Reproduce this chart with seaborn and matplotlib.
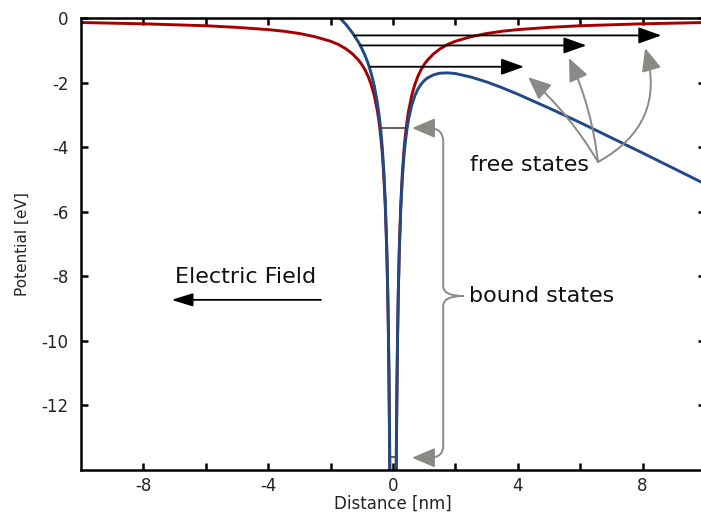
import matplotlib
matplotlib.use("Agg")
import matplotlib.pyplot as plt
import pandas as pd
import seaborn as sns
from matplotlib.patches import FancyArrowPatch
from matplotlib.path import Path

# ---------------- data ----------------
# distance magnitudes [nm]
r_vals = [0.1, 0.11, 0.13, 0.15, 0.17, 0.2, 0.25, 0.3, 0.35, 0.4, 0.45, 0.5,
          0.6, 0.7, 0.8, 0.9, 1.0, 1.1, 1.3, 1.5, 1.75, 2.0, 2.5, 3.0, 3.5,
          4.0, 5.0, 6.0, 7.0, 8.0, 9.0, 10.0]
# Coulomb potential (red), same on both sides
red_left_x = [-10.0, -9.0, -8.0, -7.0, -6.0, -5.0, -4.0, -3.5, -3.0, -2.5, -2.0,
              -1.75, -1.5, -1.3, -1.1, -1.0, -0.9, -0.8, -0.7, -0.6, -0.5, -0.45,
              -0.4, -0.35, -0.3, -0.25, -0.2, -0.17, -0.15, -0.13, -0.11, -0.1]
red_left_y = [-0.14, -0.16, -0.18, -0.21, -0.24, -0.29, -0.36, -0.41, -0.48, -0.58,
              -0.72, -0.82, -0.96, -1.11, -1.31, -1.44, -1.6, -1.8, -2.06, -2.4,
              -2.88, -3.2, -3.6, -4.11, -4.8, -5.76, -7.2, -8.47, -9.6, -11.08,
              -13.09, -14.4]
red_right_x = r_vals
red_right_y = [-14.4, -13.09, -11.08, -9.6, -8.47, -7.2, -5.76, -4.8, -4.11, -3.6,
               -3.2, -2.88, -2.4, -2.06, -1.8, -1.6, -1.44, -1.31, -1.11, -0.96,
               -0.82, -0.72, -0.58, -0.48, -0.41, -0.36, -0.29, -0.24, -0.21,
               -0.18, -0.16, -0.14]
# Coulomb potential tilted by the electric field (blue)
blue_left_x = [-2.0, -1.75, -1.5, -1.3, -1.1, -1.0, -0.9, -0.8, -0.7, -0.6, -0.5,
               -0.45, -0.4, -0.35, -0.3, -0.25, -0.2, -0.17, -0.15, -0.13, -0.11, -0.1]
blue_left_y = [0.28, 0.055, -0.21, -0.46, -0.76, -0.94, -1.15, -1.4, -1.71, -2.1,
               -2.63, -2.98, -3.4, -3.94, -4.65, -5.64, -7.1, -8.39, -9.53, -11.01,
               -13.04, -14.35]
blue_right_x = r_vals
blue_right_y = [-14.45, -13.15, -11.14, -9.68, -8.56, -7.3, -5.89, -4.95, -4.29, -3.8,
                -3.43, -3.13, -2.7, -2.41, -2.2, -2.05, -1.94, -1.86, -1.76, -1.71,
                -1.70, -1.72, -1.83, -1.98, -2.16, -2.36, -2.79, -3.24, -3.71, -4.18,
                -4.66, -5.14]

# energy levels [eV]
bound_levels = [-13.6, -3.4]
bound_left = [-0.1, -0.42]
bound_right = [0.1, 0.45]
free_levels = [-1.51, -0.85, -0.54]
free_start = [-0.72, -1.05, -1.24]
free_end = [4.2, 6.2, 8.6]

x_ticks = [-8, -4, 0, 4, 8]
x_minor = [-6, -2, 2, 6]
y_ticks = [-12, -10, -8, -6, -4, -2, 0]

RED = "#a40000"
BLUE = "#204a87"
GREY = "#888a85"

# ---------------- figure ----------------
sns.set_theme(style="white")
plt.rcParams["font.family"] = ["DejaVu Sans"]
plt.rcParams["axes.unicode_minus"] = False

fig = plt.figure(figsize=(7.01, 5.13), dpi=100)
ax = fig.add_axes([81 / 701, 43 / 513, 624 / 701, 452 / 513])

red_df = pd.DataFrame({
    "x": red_left_x + red_right_x,
    "y": red_left_y + red_right_y,
    "branch": ["L"] * len(red_left_x) + ["R"] * len(red_right_x),
})
blue_df = pd.DataFrame({
    "x": blue_left_x + blue_right_x,
    "y": blue_left_y + blue_right_y,
    "branch": ["L"] * len(blue_left_x) + ["R"] * len(blue_right_x),
})

sns.lineplot(data=red_df, x="x", y="y", units="branch", estimator=None, sort=False,
             color=RED, lw=2.1, ax=ax)
sns.lineplot(data=blue_df, x="x", y="y", units="branch", estimator=None, sort=False,
             color=BLUE, lw=2.1, ax=ax)

# bound-state levels inside the well
for lv, xl, xr in zip(bound_levels, bound_left, bound_right):
    ax.plot([xl, xr], [lv, lv], color="#444444", lw=1.2, zorder=1)

# free-state arrows
for lv, xs, xe in zip(free_levels, free_start, free_end):
    ax.annotate("", xy=(xe, lv), xytext=(xs, lv),
                arrowprops=dict(arrowstyle="-|>,head_length=0.7,head_width=0.25",
                                mutation_scale=20, color="black", lw=1.3,
                                shrinkA=0, shrinkB=0))

# electric field arrow
ax.annotate("", xy=(-7.1, -8.73), xytext=(-2.31, -8.73),
            arrowprops=dict(arrowstyle="-|>,head_length=0.65,head_width=0.2",
                            mutation_scale=20, color="black", lw=1.3,
                            shrinkA=0, shrinkB=0))
ax.text(-4.73, -8.02, "Electric Field", fontsize=16, ha="center", va="center",
        color="#111111")

# free states annotation
ax.text(4.37, -4.55, "free states", fontsize=16, ha="center", va="center",
        color="#111111")
start = (6.57, -4.46)
for tip, rad in zip([(4.33, -1.83), (5.64, -1.24), (8.08, -0.93)], [0.08, 0.08, 0.4]):
    ax.annotate("", xy=tip, xytext=start,
                arrowprops=dict(arrowstyle="-|>,head_length=0.7,head_width=0.3",
                                mutation_scale=20, color=GREY, lw=1.4,
                                shrinkA=0, shrinkB=0,
                                connectionstyle=f"arc3,rad={rad}"))

# bound states annotation (brace-like arrows)
ax.text(4.76, -8.61, "bound states", fontsize=16, ha="center", va="center",
        color="#111111")
J = (2.25, -8.61)
top = Path([J, (1.61, -8.61), (1.61, -8.30), (1.61, -3.84), (1.61, -3.41),
            (1.16, -3.41), (0.61, -3.41)],
           [Path.MOVETO, Path.CURVE3, Path.CURVE3, Path.LINETO, Path.CURVE3,
            Path.CURVE3, Path.LINETO])
bot = Path([J, (1.61, -8.61), (1.61, -8.92), (1.61, -13.25), (1.61, -13.62),
            (1.16, -13.62), (0.61, -13.62)],
           [Path.MOVETO, Path.CURVE3, Path.CURVE3, Path.LINETO, Path.CURVE3,
            Path.CURVE3, Path.LINETO])
for p in (top, bot):
    ax.add_patch(FancyArrowPatch(path=p, arrowstyle="-|>,head_length=0.7,head_width=0.3",
                                 mutation_scale=20, color=GREY, lw=1.4,
                                 transform=ax.transData))

# axes styling
ax.set_xlim(-10, 10)
ax.set_ylim(-14, 0)
ax.set_xticks(x_ticks)
ax.set_xticks(x_minor, minor=True)
ax.set_yticks(y_ticks)
ax.set_xticklabels([str(v) for v in x_ticks])
ax.set_yticklabels([str(v) for v in y_ticks])
for s in ax.spines.values():
    s.set_visible(True)
    s.set_color("black")
    s.set_linewidth(1.8)
ax.tick_params(which="both", direction="in", length=5, width=1.8, top=True,
               right=True, bottom=True, left=True, colors="black",
               labelcolor="#222222", labelsize=12)
ax.tick_params(axis="y", pad=9)
ax.tick_params(axis="x", pad=5)
ax.set_xlabel("Distance [nm]", fontsize=12, color="#222222", labelpad=0)
ax.set_ylabel("Potential [eV]", fontsize=11, color="#222222", labelpad=8)
ax.grid(False)

fig.savefig("out.png", dpi=100)
